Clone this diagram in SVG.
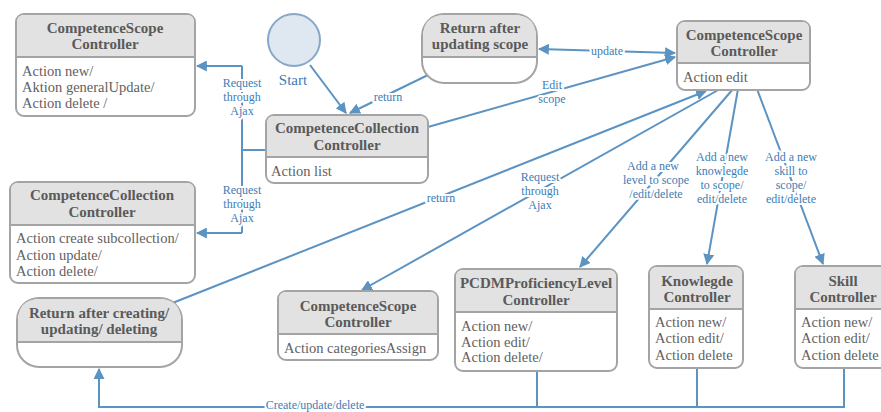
<svg xmlns="http://www.w3.org/2000/svg" width="881" height="412" viewBox="0 0 881 412">
  <style>
    .box { stroke: #a4a4a4; stroke-width: 2; fill: #ffffff; }
    .hdr { fill: #e2e2e2; }
    .sep { stroke: #a4a4a4; stroke-width: 2; }
    .title { font-family: "Liberation Serif", "DejaVu Serif", serif; font-size: 15px; font-weight: bold; fill: #5a5a5a; text-anchor: middle; }
    .body { font-family: "Liberation Serif", "DejaVu Serif", serif; font-size: 14.5px; fill: #5f5f5f; }
    .edge { stroke: #5b93c3; stroke-width: 2; fill: none; }
    .lbl { font-family: "Liberation Serif", "DejaVu Serif", serif; font-size: 12px; fill: #3d7db5; text-anchor: middle; paint-order: stroke; stroke: #ffffff; stroke-width: 4px; stroke-linejoin: round; }
  </style>
  <defs>
    <marker id="arrow" viewBox="0 0 10 10" refX="9" refY="5" markerWidth="11" markerHeight="11" markerUnits="userSpaceOnUse" orient="auto-start-reverse">
      <path d="M0,0 L10,5 L0,10 z" fill="#5b93c3"/>
    </marker>
  </defs>
  <rect width="881" height="412" fill="#ffffff"/>

  <!-- connectors -->
  <g id="connectors">
    <!-- Ajax bracket on the left -->
    <path class="edge" d="M266 150 H242"/>
    <path class="edge" d="M242 66 V233"/>
    <path class="edge" d="M242 66 H197" marker-end="url(#arrow)"/>
    <path class="edge" d="M242 233 H197" marker-end="url(#arrow)"/>
    <text class="lbl" x="242" y="87">Request</text>
    <text class="lbl" x="242" y="101">through</text>
    <text class="lbl" x="242" y="115">Ajax</text>
    <text class="lbl" x="242" y="194">Request</text>
    <text class="lbl" x="242" y="208">through</text>
    <text class="lbl" x="242" y="222">Ajax</text>

    <!-- start -->
    <line class="edge" x1="310" y1="65" x2="346" y2="113" marker-end="url(#arrow)"/>
    <!-- return after updating scope -->
    <line class="edge" x1="428" y1="75" x2="350" y2="113" marker-end="url(#arrow)"/>
    <text class="lbl" x="388" y="101">return</text>
    <!-- edit scope -->
    <line class="edge" x1="428" y1="127" x2="675" y2="57" marker-end="url(#arrow)"/>
    <text class="lbl" x="552" y="89">Edit</text>
    <text class="lbl" x="552" y="103">scope</text>
    <!-- update -->
    <line class="edge" x1="539" y1="49" x2="675" y2="53" marker-start="url(#arrow)" marker-end="url(#arrow)"/>
    <text class="lbl" x="607" y="55">update</text>
    <!-- return from create/update/delete -->
    <line class="edge" x1="170" y1="304" x2="706" y2="91" marker-end="url(#arrow)"/>
    <text class="lbl" x="441" y="202">return</text>
    <!-- request through Ajax to categoriesAssign -->
    <line class="edge" x1="720" y1="89" x2="362" y2="290" marker-end="url(#arrow)"/>
    <text class="lbl" x="540" y="181">Request</text>
    <text class="lbl" x="540" y="195">through</text>
    <text class="lbl" x="540" y="209">Ajax</text>
    <!-- level -->
    <line class="edge" x1="733" y1="89" x2="580" y2="267" marker-end="url(#arrow)"/>
    <text class="lbl" x="653" y="170">Add a new</text>
    <text class="lbl" x="656" y="184">level to scope</text>
    <text class="lbl" x="656" y="198">/edit/delete</text>
    <!-- knowledge -->
    <line class="edge" x1="738" y1="89" x2="707" y2="264" marker-end="url(#arrow)"/>
    <text class="lbl" x="722" y="161">Add a new</text>
    <text class="lbl" x="722" y="175">knowlegde</text>
    <text class="lbl" x="722" y="189">to  scope/</text>
    <text class="lbl" x="722" y="203">edit/delete</text>
    <!-- skill -->
    <line class="edge" x1="757" y1="89" x2="823" y2="264" marker-end="url(#arrow)"/>
    <text class="lbl" x="791" y="161">Add a new</text>
    <text class="lbl" x="791" y="175">skill to</text>
    <text class="lbl" x="791" y="189">scope/</text>
    <text class="lbl" x="791" y="203">edit/delete</text>
    <!-- bottom bus -->
    <path class="edge" d="M537 371 V407"/>
    <path class="edge" d="M697 368 V407"/>
    <path class="edge" d="M844 368 V407 H99 V369" marker-end="url(#arrow)"/>
    <text class="lbl" x="315" y="409" font-size="11.5">Create/update/delete</text>
  </g>

  <!-- start node -->
  <g id="start">
    <circle cx="294" cy="40" r="26" fill="#dfe7f1" stroke="#86a8c8" stroke-width="2"/>
    <text x="293" y="85" font-family="Liberation Serif, DejaVu Serif, serif" font-size="15" fill="#3d7db5" text-anchor="middle">Start</text>
  </g>

  <!-- CompetenceScope controller (top left) -->
  <g id="cs-top-left">
    <rect class="box" x="16" y="14" width="179" height="102" rx="8"/>
    <path class="hdr" d="M17 57 V22 Q17 15 24 15 H187 Q194 15 194 22 V57 Z"/>
    <line class="sep" x1="16" y1="57" x2="195" y2="57"/>
    <text class="title" x="105" y="33">CompetenceScope</text>
    <text class="title" x="105" y="49">Controller</text>
    <text class="body" x="22" y="76">Action new/</text>
    <text class="body" x="22" y="92">Aktion generalUpdate/</text>
    <text class="body" x="22" y="108">Action delete /</text>
  </g>

  <!-- Return after updating scope -->
  <g id="return-update">
    <rect class="box" x="422" y="14" width="115" height="69" rx="22"/>
    <path class="hdr" d="M423 57 V37 Q423 15 445 15 H514 Q536 15 536 37 V57 Z"/>
    <line class="sep" x1="422" y1="57" x2="537" y2="57"/>
    <text class="title" x="480" y="33">Return after</text>
    <text class="title" x="480" y="49">updating scope</text>
  </g>

  <!-- CompetenceCollection controller (list) -->
  <g id="cc-list">
    <rect class="box" x="266" y="115" width="162" height="68" rx="8"/>
    <path class="hdr" d="M267 157 V123 Q267 116 274 116 H420 Q427 116 427 123 V157 Z"/>
    <line class="sep" x1="266" y1="157" x2="428" y2="157"/>
    <text class="title" x="347" y="133">CompetenceCollection</text>
    <text class="title" x="347" y="150">Controller</text>
    <text class="body" x="271" y="176">Action list</text>
  </g>

  <!-- CompetenceScope controller (edit) -->
  <g id="cs-edit">
    <rect class="box" x="677" y="21" width="133" height="69" rx="8"/>
    <path class="hdr" d="M678 63 V29 Q678 22 685 22 H802 Q809 22 809 29 V63 Z"/>
    <line class="sep" x1="677" y1="63" x2="810" y2="63"/>
    <text class="title" x="744" y="40">CompetenceScope</text>
    <text class="title" x="744" y="56">Controller</text>
    <text class="body" x="683" y="82">Action edit</text>
  </g>

  <!-- CompetenceCollection controller (left) -->
  <g id="cc-left">
    <rect class="box" x="10" y="182" width="185" height="101" rx="8"/>
    <path class="hdr" d="M11 225 V190 Q11 183 18 183 H187 Q194 183 194 190 V225 Z"/>
    <line class="sep" x1="10" y1="225" x2="195" y2="225"/>
    <text class="title" x="102" y="200">CompetenceCollection</text>
    <text class="title" x="102" y="217">Controller</text>
    <text class="body" x="16" y="243">Action create subcollection/</text>
    <text class="body" x="16" y="260">Action update/</text>
    <text class="body" x="16" y="276">Action delete/</text>
  </g>

  <!-- Return after creating/updating/deleting -->
  <g id="return-cud">
    <rect class="box" x="17" y="298" width="165" height="69" rx="22"/>
    <path class="hdr" d="M18 342 V321 Q18 299 40 299 H159 Q181 299 181 321 V342 Z"/>
    <line class="sep" x1="17" y1="342" x2="182" y2="342"/>
    <text class="title" x="99" y="318">Return after creating/</text>
    <text class="title" x="99" y="334">updating/ deleting</text>
  </g>

  <!-- CompetenceScope controller (categoriesAssign) -->
  <g id="cs-assign">
    <rect class="box" x="278" y="291" width="160" height="69" rx="8"/>
    <path class="hdr" d="M279 334 V299 Q279 292 286 292 H430 Q437 292 437 299 V334 Z"/>
    <line class="sep" x1="278" y1="334" x2="438" y2="334"/>
    <text class="title" x="358" y="311">CompetenceScope</text>
    <text class="title" x="358" y="327">Controller</text>
    <text class="body" x="284" y="353">Action categoriesAssign</text>
  </g>

  <!-- PCDMProficiencyLevel controller -->
  <g id="pcdm">
    <rect class="box" x="455" y="269" width="162" height="102" rx="8"/>
    <path class="hdr" d="M456 312 V277 Q456 270 463 270 H609 Q616 270 616 277 V312 Z"/>
    <line class="sep" x1="455" y1="312" x2="617" y2="312"/>
    <text class="title" x="536" y="288">PCDMProficiencyLevel</text>
    <text class="title" x="536" y="305">Controller</text>
    <text class="body" x="461" y="331">Action new/</text>
    <text class="body" x="461" y="347">Action edit/</text>
    <text class="body" x="461" y="362">Action delete/</text>
  </g>

  <!-- Knowlegde controller -->
  <g id="knowledge">
    <rect class="box" x="649" y="266" width="94" height="102" rx="8"/>
    <path class="hdr" d="M650 309 V274 Q650 267 657 267 H735 Q742 267 742 274 V309 Z"/>
    <line class="sep" x1="649" y1="309" x2="743" y2="309"/>
    <text class="title" x="697" y="286">Knowlegde</text>
    <text class="title" x="697" y="302">Controller</text>
    <text class="body" x="655" y="327">Action new/</text>
    <text class="body" x="655" y="343">Action edit/</text>
    <text class="body" x="655" y="360">Action delete</text>
  </g>

  <!-- Skill controller -->
  <g id="skill">
    <rect class="box" x="795" y="266" width="94" height="102" rx="8"/>
    <path class="hdr" d="M796 309 V274 Q796 267 803 267 H881 Q888 267 888 274 V309 Z"/>
    <line class="sep" x1="795" y1="309" x2="889" y2="309"/>
    <text class="title" x="843" y="286">Skill</text>
    <text class="title" x="843" y="302">Controller</text>
    <text class="body" x="801" y="327">Action new/</text>
    <text class="body" x="801" y="343">Action edit/</text>
    <text class="body" x="801" y="360">Action delete</text>
  </g>
</svg>
